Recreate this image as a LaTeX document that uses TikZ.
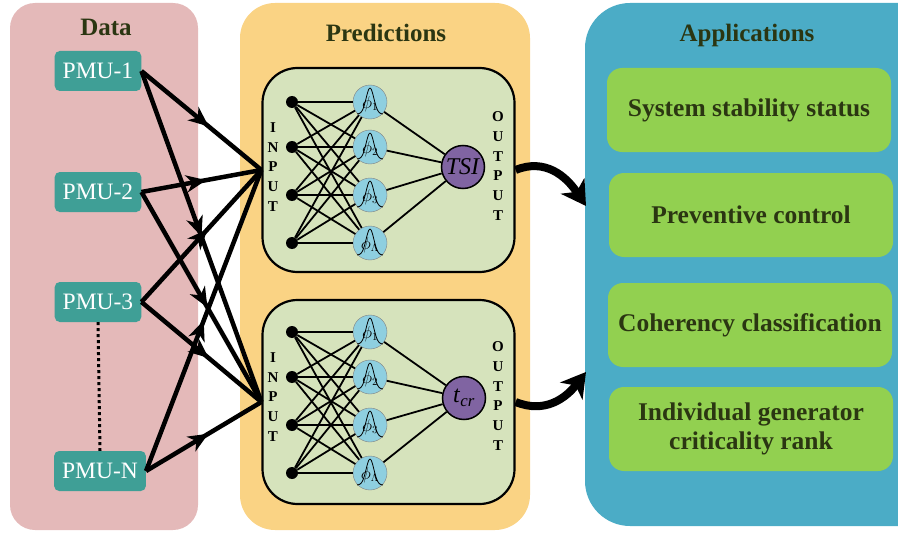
\documentclass[tikz,border=0pt]{standalone}
\usepackage{fontspec}
\setmainfont{Liberation Serif}
\usetikzlibrary{arrows.meta,decorations.markings}
\definecolor{datapink}{HTML}{E4B9B9}
\definecolor{predorange}{HTML}{FAD384}
\definecolor{appblue}{HTML}{4BACC6}
\definecolor{pmuteal}{HTML}{3F9F96}
\definecolor{appgreen}{HTML}{92D050}
\definecolor{nngreen}{HTML}{D6E3BC}
\definecolor{rbfblue}{HTML}{8ECFE0}
\definecolor{outpurple}{HTML}{8064A2}
\definecolor{olivetext}{HTML}{2B3612}

\begin{document}
\begin{tikzpicture}[x=1pt,y=-1pt,
	title/.style={font=\bfseries\fontsize{25}{29}\selectfont,text=olivetext},
	pmubox/.style={fill=pmuteal,text=white,rounded corners=5pt,inner xsep=8pt,minimum height=40pt,font=\fontsize{23.5}{27}\selectfont},
	nnbox/.style={draw,line width=2.2pt,fill=nngreen,rounded corners=35pt,minimum width=252pt,minimum height=204pt},
	appbox/.style={fill=appgreen,rounded corners=15pt,minimum width=284pt,minimum height=84pt,align=center,text=olivetext,font=\bfseries\fontsize{25.5}{29}\selectfont},
	indot/.style={circle,fill=black,inner sep=0pt,minimum size=12pt},
	rbf/.style={circle,draw=gray,fill=rbfblue,inner sep=0pt,minimum size=34pt},
	outnode/.style={circle,draw,line width=1.5pt,fill=outpurple,inner sep=0pt,minimum size=43pt,font=\fontsize{24}{27}\selectfont},
	letters/.style={align=center,font=\bfseries\fontsize{15}{19.7}\selectfont},
	feed/.style={line width=4.5pt,postaction={decorate},decoration={markings,mark=at position #1 with {\arrow{Stealth[length=20pt,width=17pt,inset=6pt]}}}},
	fat/.style={line width=8pt,-{Stealth[length=24pt,width=28pt,inset=7pt]}}]
	\useasboundingbox (0,0) rectangle (898,535);
	\clip (0,0) rectangle (898,535);

	% panels
	\fill[datapink,rounded corners=25pt] (10,3) rectangle (198,530);
	\fill[predorange,rounded corners=35pt] (240,3) rectangle (530,530);
	\fill[appblue,rounded corners=45pt] (585,3) rectangle (950,526);
	\node[title] (dataTitle) at (106,27) {Data};
	\node[title] (predTitle) at (386,33) {Predictions};
	\node[title] (appTitle) at (747,35) {Applications};

	% PMUs
	\node[pmubox] (pmu1) at (98,71) {PMU-1};
	\node[pmubox] (pmu2) at (98,192) {PMU-2};
	\node[pmubox] (pmu3) at (98,302) {PMU-3};
	\node[pmubox] (pmuN) at (100,471) {PMU-N};
	\draw[line width=3pt,dash pattern=on 3pt off 3pt] (pmu3.south) -- (pmuN.north);

	% networks
	\node[nnbox] (nnA) at (388.5,170) {};
	\node[nnbox] (nnB) at (388.5,402) {};
	\foreach \n/\dy in {A/0,B/230} {
		\foreach \i/\y in {1/102,2/147,3/195,4/243} {
			\node[indot] (in\n\i) at (292,\y+\dy) {};
			\node[rbf] (h\n\i) at (370,\y+\dy) {};
		}
		\node[letters] (inLbl\n) at (273,167+\dy) {I\\N\\P\\U\\T};
		\node[letters] (outLbl\n) at (498,166+\dy) {O\\U\\T\\P\\U\\T};
	}
	\node[outnode] (outA) at (463,167) {\textit{TSI}};
	\node[outnode] (outB) at (464,398) {\textit{t}\textsubscript{\textit{cr}}};
	\foreach \n in {A,B} {
		\foreach \i/\s in {1/1,2/2,3/3,4/\Lambda} {
			\draw[line width=0.8pt,shift={(h\n\i.center)}] plot[domain=-13:13,samples=30] (\x,{12-26*exp(0-(\x)*(\x)/30)});
			\node[font=\fontsize{16}{16}\selectfont] (ph\n\i) at ([yshift=-2pt]h\n\i.center) {$\phi_{\s}$};
			\draw[line width=1.8pt] (h\n\i) -- (out\n);
			\foreach \j in {1,2,3,4}
				\draw[line width=1.8pt] (in\n\j) -- (h\n\i);
		}
	}

	% data to networks
	\draw[feed=0.56] (pmu1.east) -- (nnA.west);
	\draw[feed=0.50] (pmu1.east) -- (nnB.west);
	\draw[feed=0.54] (pmu2.east) -- (nnA.west);
	\draw[feed=0.55] (pmu2.east) -- (nnB.west);
	\draw[feed=0.55] (pmu3.east) -- (nnA.west);
	\draw[feed=0.56] (pmu3.east) -- (nnB.west);
	\draw[feed=0.50] (pmuN.east) -- (nnA.west);
	\draw[feed=0.54] (pmuN.east) -- (nnB.west);

	% networks to applications
	\coordinate (appInA) at (586,206);
	\coordinate (appInB) at (586,372);
	\draw[fat] (nnA.east) .. controls (545,158) and (566,176) .. (appInA);
	\draw[fat] (nnB.east) .. controls (545,414) and (566,398) .. (appInB);

	% applications
	\node[appbox] (app1) at (749,110) {System stability status};
	\node[appbox] (app2) at (751,215) {Preventive control};
	\node[appbox] (app3) at (750,325) {Coherency classification};
	\node[appbox] (app4) at (751,429) {Individual generator\\criticality rank};
\end{tikzpicture}
\end{document}
